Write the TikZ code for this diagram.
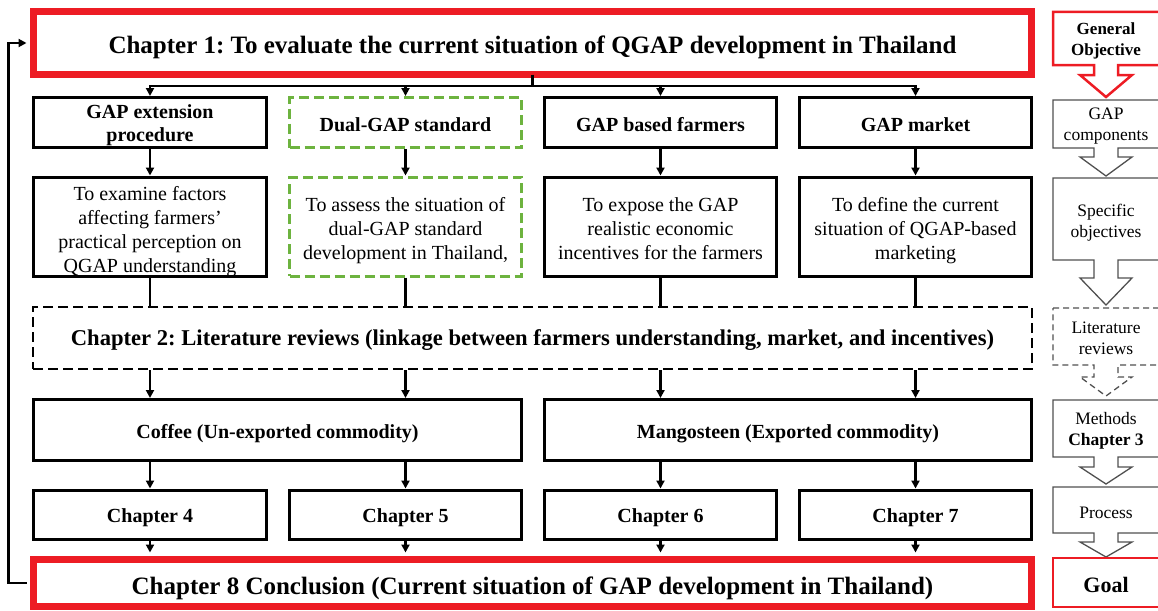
\documentclass[tikz,border=0pt]{standalone}
\usepackage{fontspec}
\setmainfont{Liberation Serif}
\usetikzlibrary{arrows.meta}
\definecolor{chapred}{HTML}{ED1C24}
\definecolor{dualgreen}{HTML}{6DB33F}
\definecolor{sidegray}{HTML}{505050}
\frenchspacing

% box with a downward block arrow below it (right-hand column)
\newcommand{\downcallout}[5]{%
  \draw[#1] (1053,#2) -- (1161,#2) -- (1161,#3) -- (1118,#3) -- (1118,#4)
    -- (1132,#4) -- (1106,#5) -- (1080,#4) -- (1094,#4) -- (1094,#3)
    -- (1053,#3) -- cycle;}
% set text a little lower inside its box, keeping the box size
\newcommand{\lowertext}[2]{\raisebox{-#1}[\height][\depth]{#2}}

\begin{document}
\begin{tikzpicture}[x=1pt,y=-1pt,
  redbox/.style={draw=chapred, line width=7pt, align=center,
    font=\fontsize{25}{29}\selectfont\bfseries},
  titlebox/.style={draw=black, line width=3pt, align=center, inner sep=1pt,
    font=\fontsize{20}{23}\selectfont\bfseries},
  textbox/.style={draw=black, line width=3pt, align=center, inner sep=1pt,
    font=\fontsize{20}{24}\selectfont},
  greenbox/.style={draw=dualgreen, dash pattern=on 10pt off 5pt},
  litbox/.style={draw=black, line width=2.5pt, dash pattern=on 10pt off 5pt,
    align=center, font=\fontsize{22.6}{26}\selectfont\bfseries},
  conn/.style={draw=black, line width=2.5pt},
  arr/.style={conn, -{Triangle[length=8pt,width=8pt]}},
  sideline/.style={draw=sidegray, line width=1.3pt, line join=miter},
  sidered/.style={draw=chapred, line width=2.5pt, line join=miter},
  sidetext/.style={align=center, inner sep=0pt,
    font=\fontsize{17.5}{21}\selectfont},
]
\useasboundingbox (0,0) rectangle (1158,610);

% main chapter frames
\node[redbox, minimum width=998pt, minimum height=63pt] (ch1) at (532.5,43)
  {\lowertext{4pt}{Chapter 1: To evaluate the current situation of QGAP development in Thailand}};
\node[redbox, minimum width=998pt, minimum height=47pt] (ch8) at (532.5,583)
  {\lowertext{5pt}{Chapter 8 Conclusion (Current situation of GAP development in Thailand)}};

% GAP components
\node[titlebox, minimum width=233pt, minimum height=50pt] (gext) at (150,122.5)
  {\lowertext{3pt}{\begin{tabular}{@{}c@{}}GAP extension\\procedure\end{tabular}}};
\node[titlebox, greenbox, minimum width=232pt, minimum height=50pt] (dual) at (405.5,122.5)
  {\lowertext{2pt}{Dual-GAP standard}};
\node[titlebox, minimum width=232pt, minimum height=50pt] (farm) at (660.5,122.5)
  {\lowertext{2pt}{GAP based farmers}};
\node[titlebox, minimum width=232pt, minimum height=50pt] (mkt) at (915.5,122.5)
  {\lowertext{2pt}{GAP market}};

% specific objectives
\node[textbox, minimum width=233pt, minimum height=99pt] (exam) at (150,226.5)
  {\lowertext{5pt}{\begin{tabular}{@{}c@{}}To examine factors\\affecting farmers’\\practical perception on\\QGAP understanding\end{tabular}}};
\node[textbox, greenbox, minimum width=232pt, minimum height=99pt] (assess) at (405.5,226.5)
  {\lowertext{4pt}{\begin{tabular}{@{}c@{}}To assess the situation of\\dual-GAP standard\\development in Thailand,\end{tabular}}};
\node[textbox, minimum width=232pt, minimum height=99pt] (expose) at (660.5,226.5)
  {\lowertext{4pt}{\begin{tabular}{@{}c@{}}To expose the GAP\\realistic economic\\incentives for the farmers\end{tabular}}};
\node[textbox, minimum width=232pt, minimum height=99pt] (define) at (915.5,226.5)
  {\lowertext{4pt}{\begin{tabular}{@{}c@{}}To define the current\\situation of QGAP-based\\marketing\end{tabular}}};

% literature reviews
\node[litbox, minimum width=999pt, minimum height=62pt] (lit) at (532.5,338)
  {\lowertext{2pt}{Chapter 2: Literature reviews (linkage between farmers understanding, market, and incentives)}};

% commodities
\node[titlebox, minimum width=488pt, minimum height=61pt] (coffee) at (277.5,430)
  {\lowertext{4pt}{Coffee (Un-exported commodity)}};
\node[titlebox, minimum width=487pt, minimum height=61pt] (mango) at (788,430)
  {\lowertext{4pt}{Mangosteen (Exported commodity)}};

% result chapters
\node[titlebox, minimum width=233pt, minimum height=49pt] (c4) at (150,514.5) {\lowertext{3pt}{Chapter 4}};
\node[titlebox, minimum width=232pt, minimum height=49pt] (c5) at (405.5,514.5) {\lowertext{3pt}{Chapter 5}};
\node[titlebox, minimum width=232pt, minimum height=49pt] (c6) at (660.5,514.5) {\lowertext{3pt}{Chapter 6}};
\node[titlebox, minimum width=232pt, minimum height=49pt] (c7) at (915.5,514.5) {\lowertext{3pt}{Chapter 7}};

% distribution from chapter 1
\coordinate (bus) at (532.5,86);
\draw[conn] ([yshift=3.5pt]ch1.south) -- (bus);
\foreach \n in {gext,dual,farm,mkt}{
  \draw[arr] (bus) -| (\n.north);
}
% components to objectives
\draw[arr] (gext) -- (exam);
\draw[arr] (dual) -- (assess);
\draw[arr] (farm) -- (expose);
\draw[arr] (mkt) -- (define);
% objectives into the literature review
\foreach \n in {exam,assess,expose,define}{
  \draw[conn] (\n.south) -- (\n.south |- lit.north);
}
% literature review to commodities
\draw[arr] (c4 |- lit.south) -- (c4 |- coffee.north);
\draw[arr] (c5 |- lit.south) -- (c5 |- coffee.north);
\draw[arr] (c6 |- lit.south) -- (c6 |- mango.north);
\draw[arr] (c7 |- lit.south) -- (c7 |- mango.north);
% commodities to chapters
\draw[arr] (c4 |- coffee.south) -- (c4.north);
\draw[arr] (c5 |- coffee.south) -- (c5.north);
\draw[arr] (c6 |- mango.south) -- (c6.north);
\draw[arr] (c7 |- mango.south) -- (c7.north);
% chapters to conclusion
\foreach \n in {c4,c5,c6,c7}{
  \draw[arr] (\n.south) -- ([yshift=3.5pt]\n.south |- ch8.north);
}
% feedback loop from conclusion back to chapter 1
\draw[arr] ([xshift=-3.5pt]ch8.west) -- ++(-18,0) |- ([xshift=-3.5pt]ch1.west);

% right-hand column: research process
\downcallout{sidered}{12}{65}{75}{97}
\downcallout{sideline}{100}{148}{157}{176}
\downcallout{sideline}{178}{260}{278}{305}
\downcallout{sideline, dash pattern=on 6pt off 4pt}{308}{365}{377}{396}
\downcallout{sideline}{400}{457}{467}{484}
\downcallout{sideline}{487}{533}{542}{557}
\draw[sidered] (1053,558) rectangle (1161,607);

\node[sidetext, font=\fontsize{17}{21}\selectfont\bfseries] (gobj) at (1106,41) {General\\Objective};
\node[sidetext] (gcomp) at (1106,126) {GAP\\components};
\node[sidetext] (sobj) at (1106,223) {Specific\\objectives};
\node[sidetext] (lrev) at (1106,338) {Literature\\reviews};
\node[sidetext] (meth) at (1106,431) {Methods\\\textbf{Chapter 3}};
\node[sidetext] (proc) at (1106,513) {Process};
\node[sidetext, font=\fontsize{22}{26}\selectfont\bfseries] (goal) at (1106,585) {Goal};
\end{tikzpicture}
\end{document}
